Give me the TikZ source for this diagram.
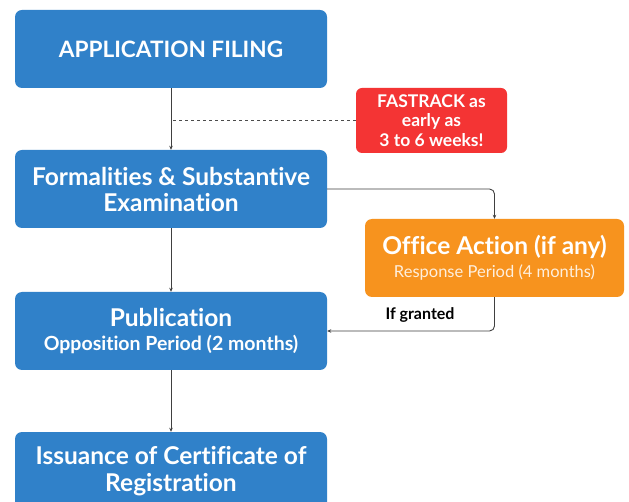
\documentclass[tikz,border=0pt]{standalone}
\usepackage{fontspec}
\setmainfont{Lato}[Ligatures=NoCommon]
\usetikzlibrary{arrows.meta}
\definecolor{azul}{HTML}{3081C9}
\definecolor{rojo}{HTML}{F43434}
\definecolor{naranja}{HTML}{F7931E}
\tikzset{
  caja/.style={fill=azul, rounded corners=7pt, text=white, minimum width=312pt, minimum height=78pt, align=center, inner sep=0pt},
  flecha/.style={-{Stealth[length=4pt,width=3.5pt]}, line width=0.9pt, black!75},
  titulo/.style={font=\bfseries\fontsize{24.5}{26}\selectfont}
}
\begin{document}
\begin{tikzpicture}[x=1pt,y=-1pt]
\clip (0,0) rectangle (629,502);
\fill[white] (0,0) rectangle (629,502);
% Cajas principales
\node[caja, font=\bfseries\fontsize{22.6}{26}\selectfont] (solicitud) at (171,49) {APPLICATION FILING};
\node[caja, titulo] (examen) at (171,189) {Formalities \& Substantive\\Examination};
\node[caja, font=\bfseries\fontsize{19.5}{24}\selectfont] (publicacion) at (171,331) {{\fontsize{24.5}{24}\selectfont Publication}\\Opposition Period (2 months)};
\node[caja, font=\bfseries\fontsize{24.5}{27}\selectfont] (emision) at (171,471) {Issuance of Certificate of\\Registration};
% Fastrack
\node[fill=rojo, rounded corners=6pt, minimum width=151pt, minimum height=65pt, inner sep=0pt, text=white, align=center, font=\bfseries\fontsize{17.5}{19.5}\selectfont] (fastrack) at (431.5,120.5) {FASTRACK as\\early as\\3 to 6 weeks!};
% Accion de oficina
\node[fill=naranja, rounded corners=7pt, minimum width=259pt, minimum height=78pt, inner sep=0pt, align=center, font=\fontsize{16.5}{23}\selectfont] (accion) at (494.5,258) {{\bfseries\fontsize{24.5}{23}\selectfont\color{white} Office Action (if any)}\\{\color{white!85!naranja} Response Period (4 months)}};
% Conectores
\draw[flecha] (solicitud) -- (examen);
\draw[dashed, line width=0.8pt, black!70] (fastrack.west) -- (fastrack.west -| solicitud.south);
\draw[flecha, rounded corners=5pt] (examen.east) -| (accion.north);
\draw[flecha, rounded corners=5pt] (accion.south) |- (publicacion.east);
\node[text=black, font=\bfseries\fontsize{16}{18}\selectfont] (concedido) at (420,315) {If granted};
\draw[flecha] (examen) -- (publicacion);
\draw[flecha] (publicacion) -- (emision);
\end{tikzpicture}
\end{document}
